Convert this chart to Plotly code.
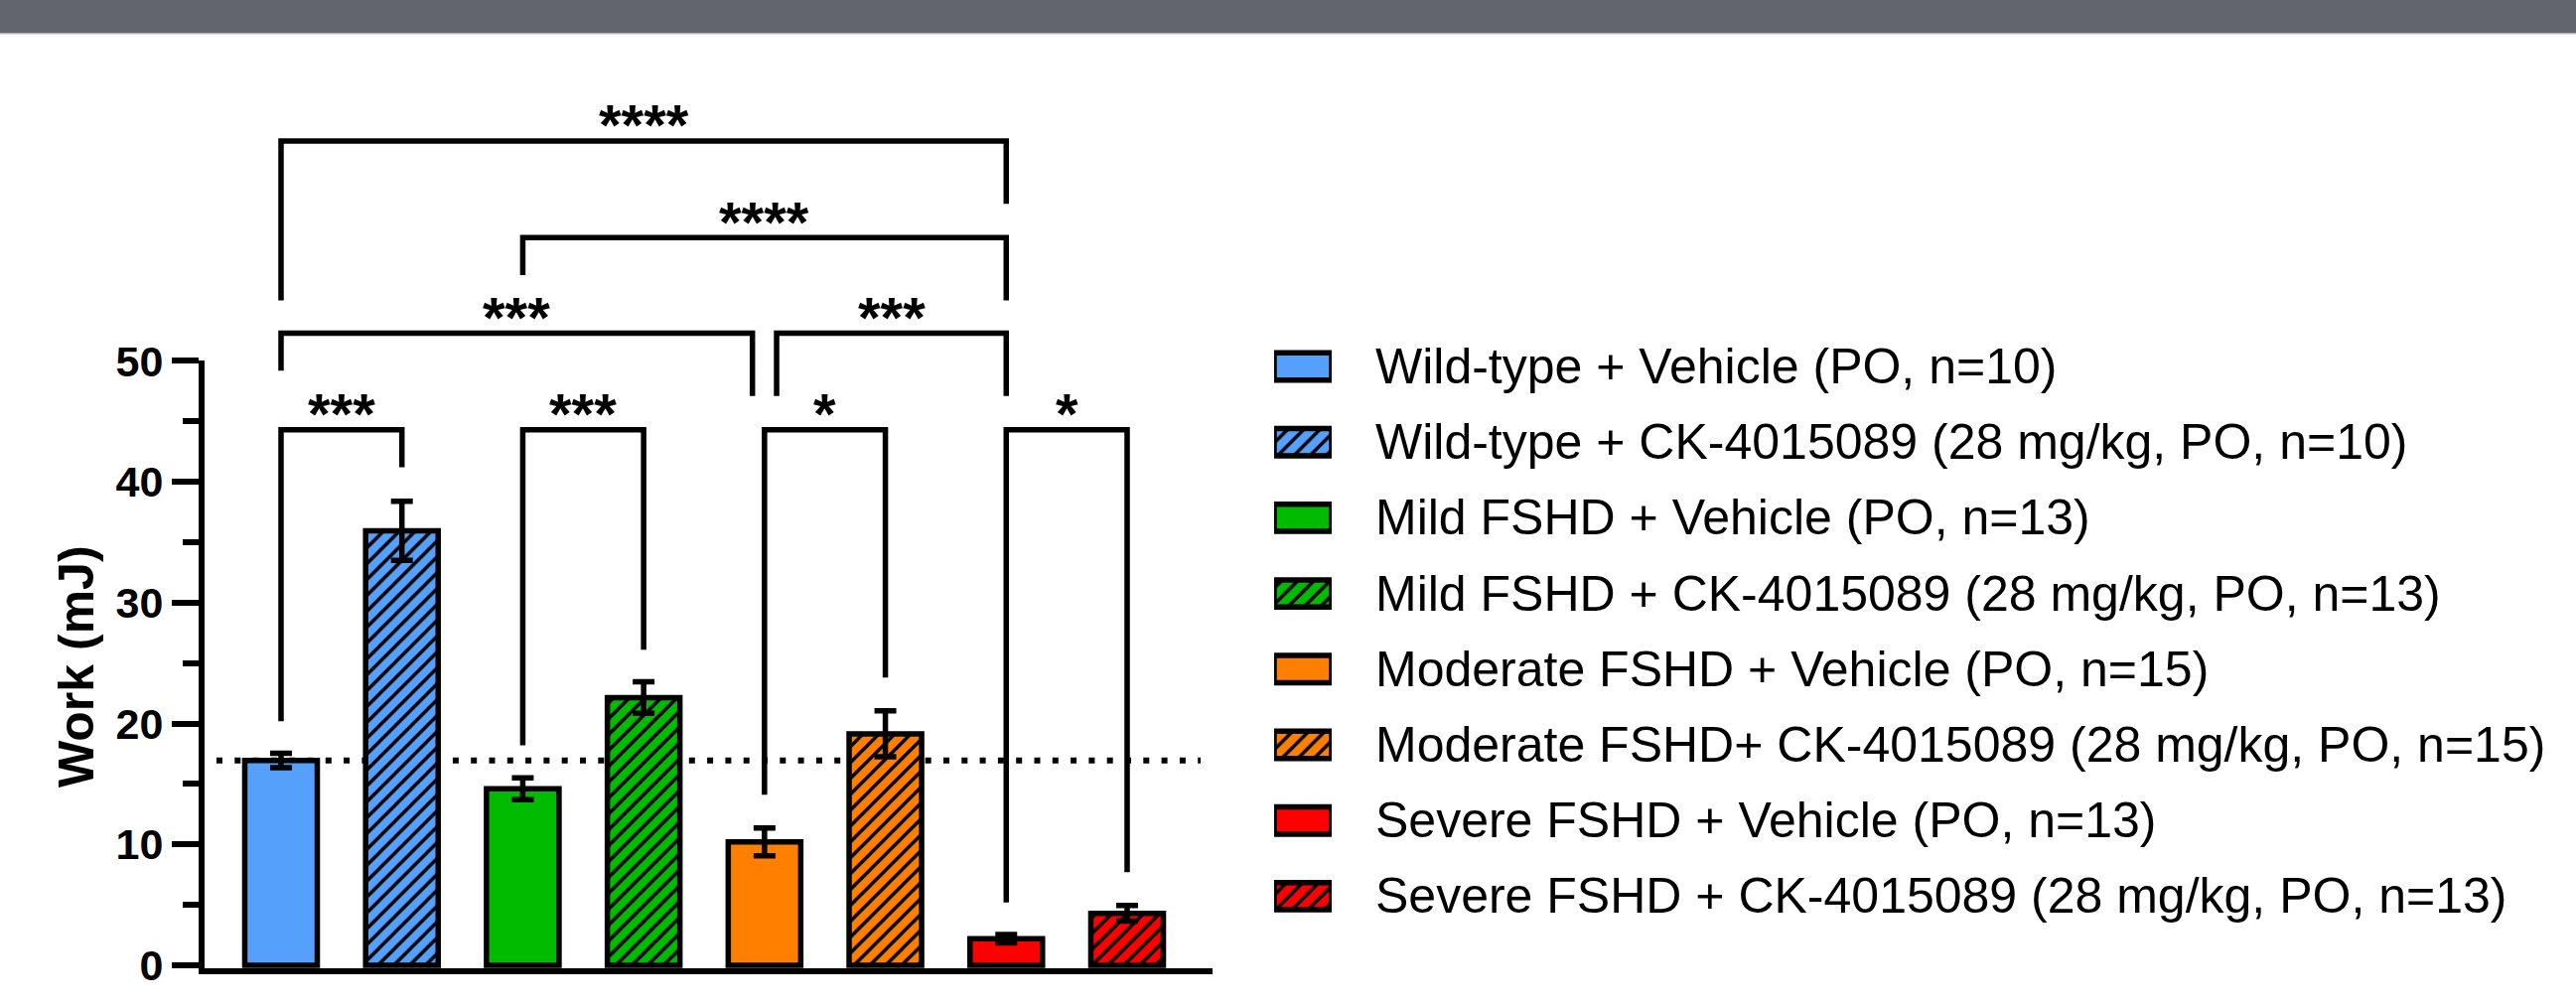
import plotly.graph_objects as go

# ---------------- data ----------------
groups = [
    "Wild-type + Vehicle (PO, n=10)",
    "Wild-type + CK-4015089 (28 mg/kg, PO, n=10)",
    "Mild FSHD + Vehicle (PO, n=13)",
    "Mild FSHD + CK-4015089 (28 mg/kg, PO, n=13)",
    "Moderate FSHD + Vehicle (PO, n=15)",
    "Moderate FSHD+ CK-4015089 (28 mg/kg, PO, n=15)",
    "Severe FSHD + Vehicle (PO, n=13)",
    "Severe FSHD + CK-4015089 (28 mg/kg, PO, n=13)",
]
means = [16.95, 35.95, 14.6, 22.15, 10.2, 19.15, 2.2, 4.3]
sems = [0.6, 2.45, 0.9, 1.3, 1.15, 1.9, 0.35, 0.65]
colors = ["#55A0FB", "#55A0FB", "#00BB00", "#00BB00",
          "#FF8000", "#FF8000", "#FF0000", "#FF0000"]
hatch = ["", "/", "", "/", "", "/", "", "/"]
ref_level = 16.95  # dotted reference line = wild-type vehicle mean

y_ticks = [0, 10, 20, 30, 40, 50]
y_minor = [5, 15, 25, 35, 45]

# significance brackets: (left bar, right bar, bracket level, left leg end, right leg end, label)
brackets = [
    (0, 1, 44.3, 20.2, 41.2, "***"),
    (2, 3, 44.3, 18.2, 26.1, "***"),
    (4, 5, 44.3, 14.1, 23.8, "*"),
    (6, 7, 44.3, 5.2, 7.7, "*"),
    (0, 3.9, 52.3, 49.2, 47.1, "***"),
    (4.1, 6, 52.3, 47.1, 47.1, "***"),
    (2, 6, 60.2, 57.1, 55.0, "****"),
    (0, 6, 68.2, 55.0, 63.0, "****"),
]

# ---------------- layout geometry ----------------
W, H = 2594, 1015
ML, MR, MT, MB = 206, 10, 72, 40
PW = W - ML - MR
PH = H - MT - MB
Y_LOW = -0.25
Y2_TOP = 73.95
Y_DOM_TOP = (50 - Y_LOW) / (Y2_TOP - Y_LOW)


def px_x(p):
    return (p - ML) / PW


def px_y(p):
    return (H - MB - p) / PH


FONT = "Liberation Sans, Arial, Helvetica, sans-serif"
n = len(means)

fig = go.Figure()

# main bars (one trace per group so each keeps its own colour + black hatch)
for k in range(n):
    fig.add_trace(go.Bar(
        x=[k], y=[means[k]], width=0.6,
        marker=dict(color=colors[k], line=dict(color="black", width=5.5),
                    pattern=dict(shape=hatch[k], fgcolor="black", bgcolor=colors[k],
                                 fgopacity=1, size=11.3, solidity=0.3,
                                 fillmode="replace")),
        error_y=dict(type="data", array=[sems[k]], color="black",
                     thickness=5.5, width=11),
        xaxis="x", yaxis="y", cliponaxis=False, hoverinfo="skip",
    ))

# significance brackets
for (i, j, lev, e1, e2, lab) in brackets:
    fig.add_trace(go.Scatter(
        x=[i, i, j, j], y=[e1, lev, lev, e2], mode="lines",
        line=dict(color="black", width=5.5),
        xaxis="x", yaxis="y2", hoverinfo="skip",
    ))
    fig.add_annotation(
        x=(i + j) / 2, y=lev, xref="x", yref="y2", text=lab, showarrow=False,
        yanchor="middle", yshift=16,
        font=dict(family=FONT, size=58, color="black", weight="bold"),
    )

# legend swatches (horizontal bars on their own axes)
for k, name in enumerate(groups):
    fig.add_trace(go.Bar(
        x=[1], y=[k], orientation="h", width=0.36,
        marker=dict(color=colors[k], line=dict(color="black", width=5.5),
                    pattern=dict(shape=hatch[k], fgcolor="black", bgcolor=colors[k],
                                 fgopacity=1, size=11.5, solidity=0.3,
                                 fillmode="replace")),
        xaxis="x3", yaxis="y3", cliponaxis=False, hoverinfo="skip",
    ))
    fig.add_annotation(
        x=px_x(1383), y=k, xref="paper", yref="y3", text=name, showarrow=False,
        xanchor="left", yanchor="middle",
        font=dict(family=FONT, size=50, color="black"),
    )

# y-axis title
fig.add_annotation(
    x=px_x(77), y=px_y(671), xref="paper", yref="paper", text="Work (mJ)",
    textangle=-90, showarrow=False, xanchor="center", yanchor="middle",
    font=dict(family=FONT, size=50, color="black", weight="bold"),
)

# dotted reference line
fig.add_shape(type="line", xref="x", yref="y", x0=-0.534, x1=7.608,
              y0=ref_level, y1=ref_level, layer="below",
              line=dict(color="black", width=6, dash="6px,12.3px"))

# top grey band
fig.add_shape(type="rect", xref="paper", yref="paper", x0=px_x(0), x1=px_x(W),
              y0=px_y(33), y1=px_y(0), fillcolor="#62656E", line=dict(width=0))
fig.add_shape(type="rect", xref="paper", yref="paper", x0=px_x(0), x1=px_x(W),
              y0=px_y(34.5), y1=px_y(33), fillcolor="#B4B4BA", line=dict(width=0))

leg_top = -(369 - MT) / 76.2
leg_bot = leg_top + PH / 76.2

fig.update_layout(
    width=W, height=H,
    margin=dict(l=ML, r=MR, t=MT, b=MB, pad=0),
    paper_bgcolor="white", plot_bgcolor="rgba(0,0,0,0)",
    showlegend=False, barmode="overlay",
    font=dict(family=FONT, color="black"),
    xaxis=dict(domain=[0, px_x(1221)], range=[-0.6326, 7.7066], anchor="y",
               showline=True, linewidth=6, linecolor="black", ticks="",
               showticklabels=False, showgrid=False, zeroline=False),
    yaxis=dict(domain=[0, Y_DOM_TOP], range=[Y_LOW, 50], anchor="x",
               showline=True, linewidth=6, linecolor="black",
               ticks="outside", ticklen=27, tickwidth=6, tickcolor="black",
               tickmode="array", tickvals=y_ticks,
               tickfont=dict(family=FONT, size=43, color="black", weight="bold"),
               minor=dict(tickmode="array", tickvals=y_minor, ticks="outside",
                          ticklen=16, tickwidth=6, tickcolor="black", showgrid=False),
               showgrid=False, zeroline=False),
    yaxis2=dict(domain=[0, 1], range=[Y_LOW, Y2_TOP], anchor="x", visible=False),
    xaxis3=dict(domain=[px_x(1283), px_x(1341)], range=[0, 1], anchor="y3",
                visible=False),
    yaxis3=dict(domain=[0, 1], range=[leg_bot, leg_top], anchor="x3", visible=False),
)

fig.write_html("out.html")
